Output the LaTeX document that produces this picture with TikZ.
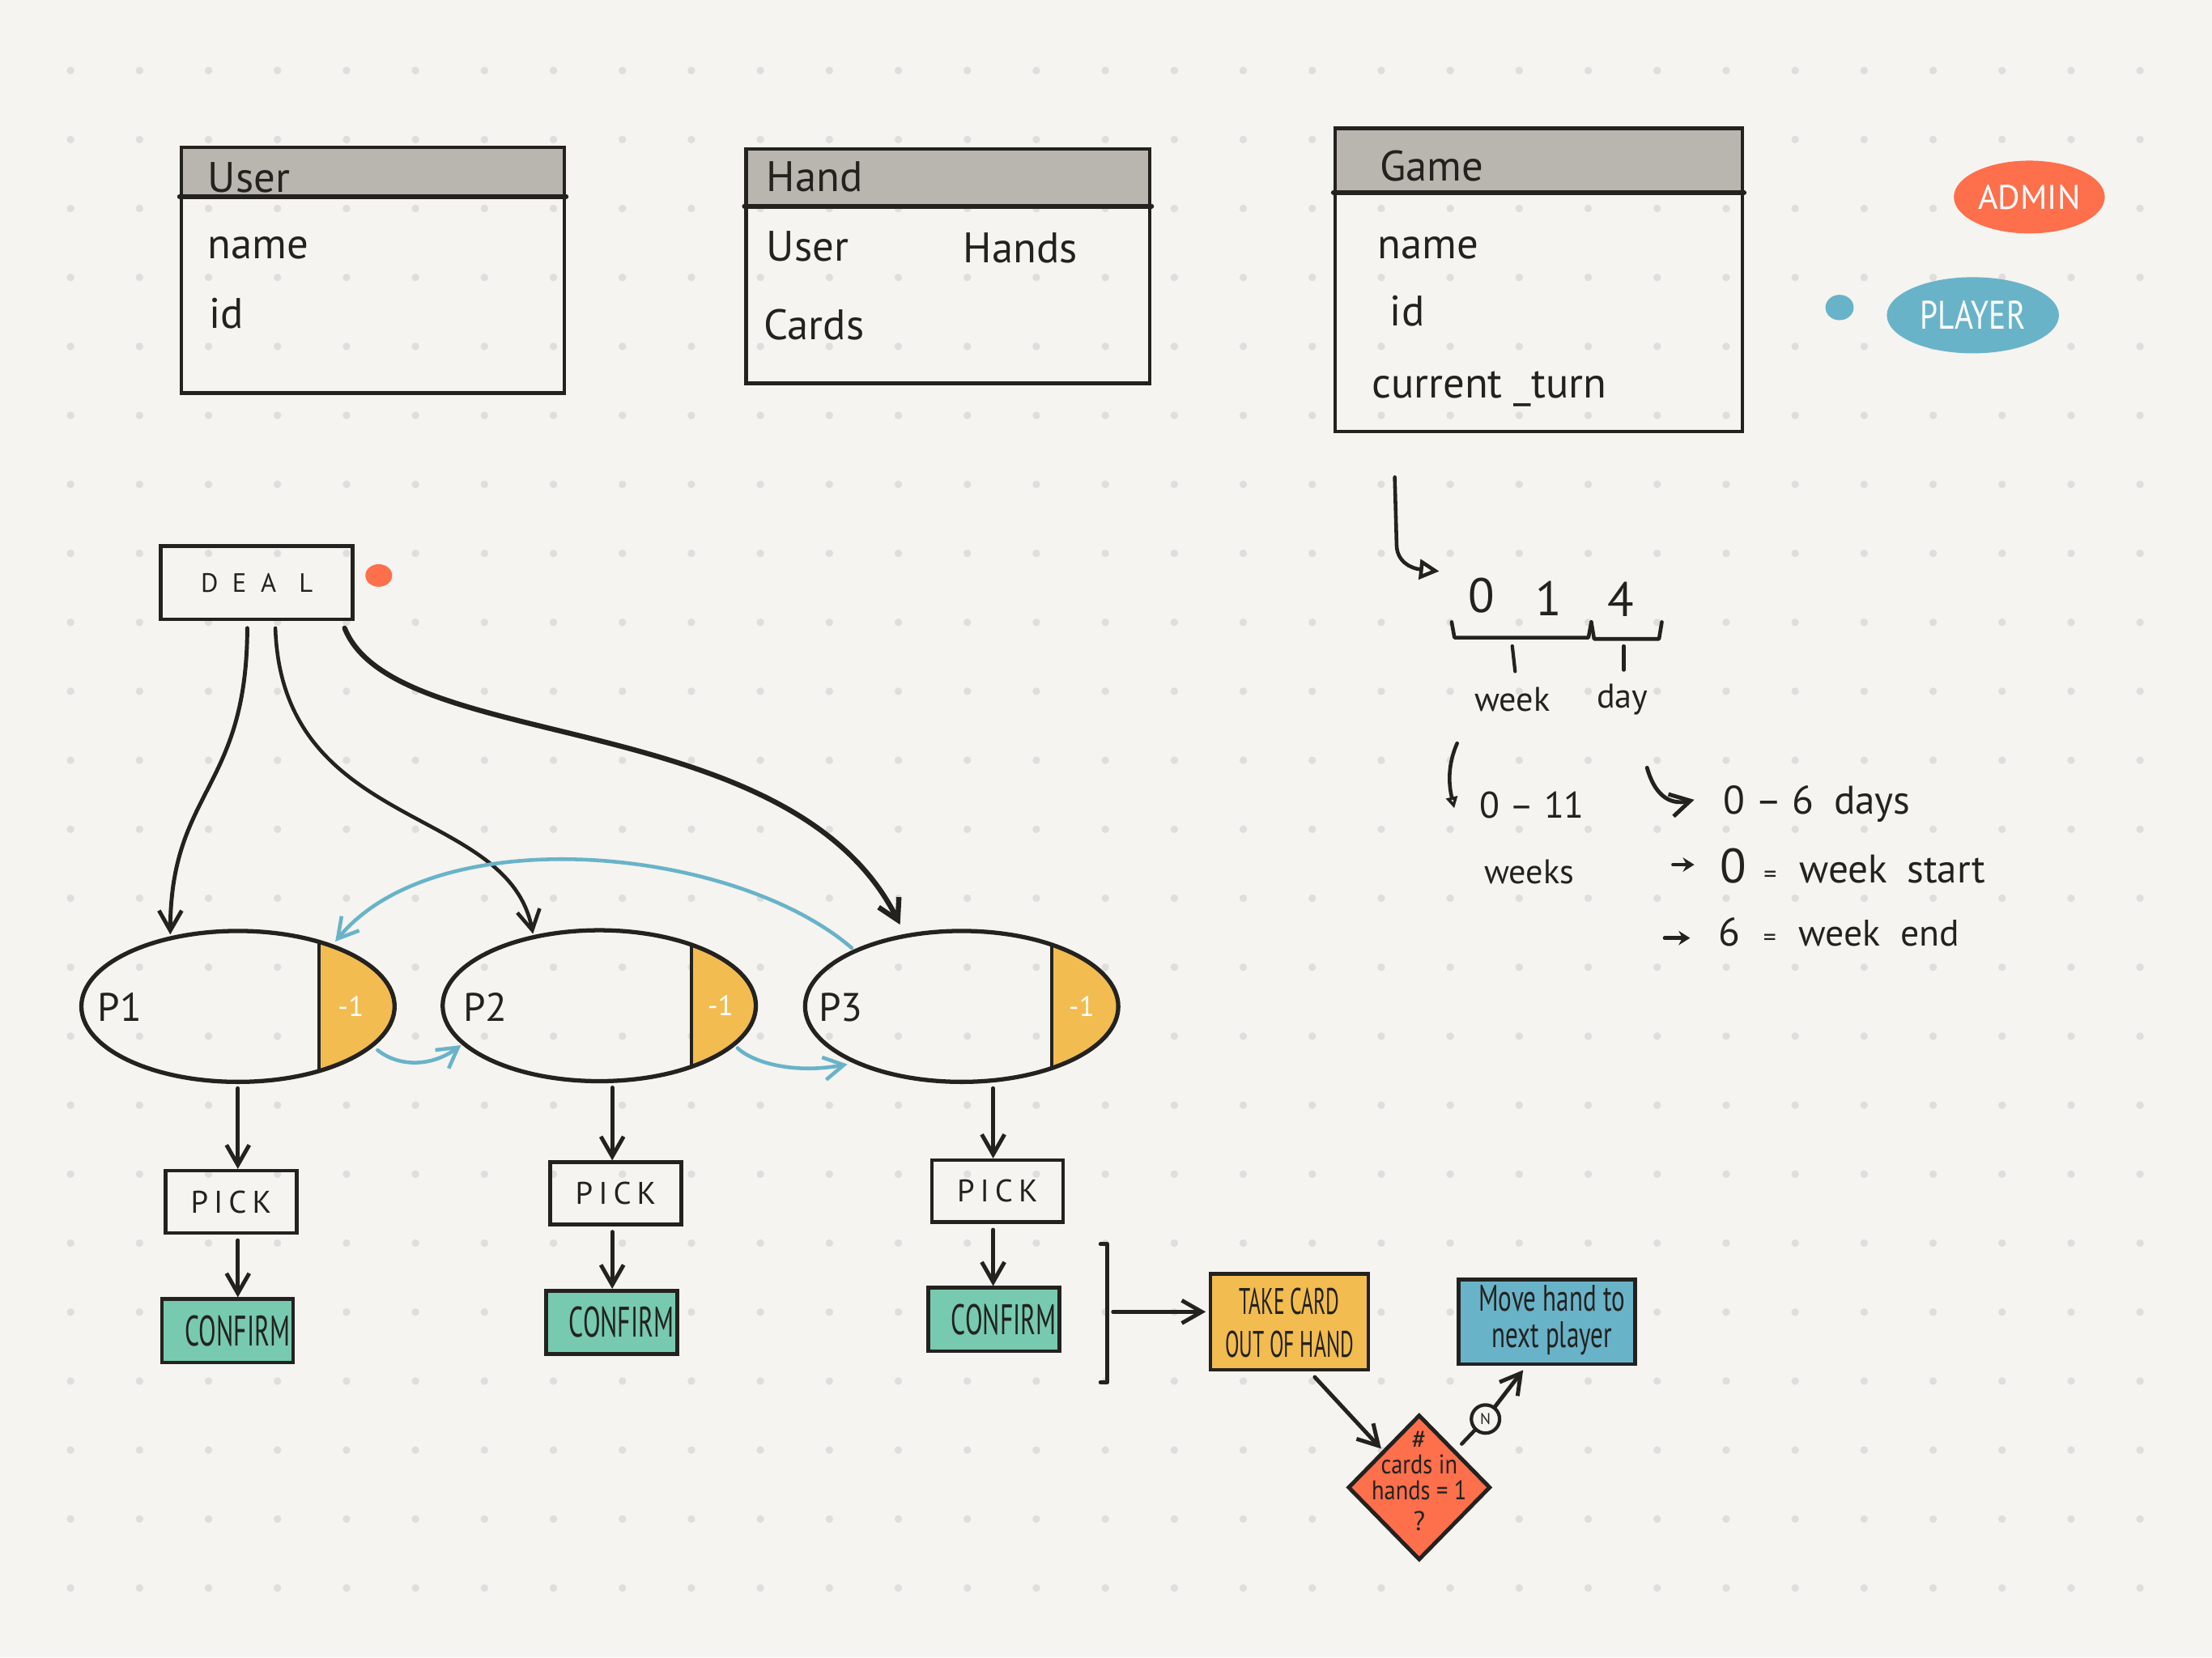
\documentclass[tikz,border=0pt]{standalone}
\usepackage{fontspec}
\setmainfont{PT Sans}
\usetikzlibrary{arrows.meta,shapes.geometric,calc}
\definecolor{paper}{HTML}{F5F4F0}
\definecolor{dotc}{HTML}{DFDEDC}
\definecolor{ink}{HTML}{23221F}
\definecolor{hdr}{HTML}{B9B5AF}
\definecolor{tomato}{HTML}{FE6F4C}
\definecolor{sky}{HTML}{69B3C9}
\definecolor{mustard}{HTML}{F2BC50}
\definecolor{mint}{HTML}{77CAAF}
\def\un{0.017423cm}
\newcommand{\fs}[1]{\fontsize{#1}{#1}\selectfont}
\begin{document}
\begin{tikzpicture}[x=0.017423cm, y=-0.017423cm,
  ink/.style={draw=ink, line width=1.4pt, line cap=round, line join=round},
  arr/.style={ink, -{Straight Barb[length=7pt,width=8pt]}},
  barr/.style={draw=sky, line width=1.3pt, line cap=round, -{Straight Barb[length=7pt,width=8pt]}},
  frame/.style={draw=ink, line width=1.3pt, rectangle, inner sep=0},
  txt/.style={inner sep=0, anchor=west, text=ink},
  tbtext/.style={txt, font=\fs{15}},
  pell/.style={draw=ink, line width=1.5pt, ellipse, inner sep=0,
    minimum width={222*\un}, minimum height={107*\un}},
  pickbox/.style={frame, minimum width={93*\un}, minimum height={44*\un}},
  confbox/.style={frame, fill=mint, minimum width={93*\un}, minimum height={45*\un}},
  note/.style={txt, font=\fs{12}}
]
\useasboundingbox (0,0) rectangle (1568,1175);
\fill[paper] (0,0) rectangle (1568,1175);
% dot grid
\foreach \i in {0,...,30}{\foreach \j in {0,...,22}{
  \fill[dotc] ({50+48.9*\i},{50+48.9*\j}) circle [radius=2.7];}}

% ---------- tables ----------
\fill[hdr] (128.6,104.5) rectangle (400,140.6);
\node[frame, minimum width={271.4*\un}, minimum height={174*\un}] (user) at (264.3,191.5) {};
\draw[ink, line width=1.7pt] ($(user.north west)+(0,36.1)$) -- ($(user.north east)+(0,36.1)$);
\node[tbtext] (usertitle) at (147,126) {User};
\node[tbtext] (username) at (147,176) {name};
\node[tbtext] (userid) at (148,222) {id};

\fill[hdr] (529,105.6) rectangle (815,147.4);
\node[frame, minimum width={286*\un}, minimum height={166.1*\un}] (hand) at (672,188.65) {};
\draw[ink, line width=1.7pt] ($(hand.north west)+(0,41.8)$) -- ($(hand.north east)+(0,41.8)$);
\node[tbtext] (handtitle) at (543,125.4) {Hand};
\node[tbtext] (handuser) at (543,174.6) {User};
\node[tbtext] (handhands) at (682.5,176) {Hands};
\node[tbtext] (handcards) at (541,230) {Cards};

\fill[hdr] (946.5,91) rectangle (1235,137.8);
\node[frame, minimum width={288.5*\un}, minimum height={215*\un}] (game) at (1090.75,198.5) {};
\draw[ink, line width=1.7pt] ($(game.north west)+(0,46.8)$) -- ($(game.north east)+(0,46.8)$);
\node[tbtext] (gametitle) at (977.6,117.5) {Game};
\node[tbtext] (gamename) at (976,176) {name};
\node[tbtext] (gameid) at (985,220.5) {id};
\node[tbtext] (gameturn) at (972,276) {current \_turn};

% ---------- role badges ----------
\node[ellipse, fill=tomato, inner sep=0, minimum width={107*\un}, minimum height={51.6*\un},
  text=white, font=\fs{12}] (admin) at (1438.5,139.7) {ADMIN};
\node[ellipse, fill=sky, inner sep=0, minimum width={122*\un}, minimum height={54*\un},
  text=white] (player) at (1398.5,223.5) {\scalebox{0.8}[1]{\fs{14}PLAYER}};
\fill[sky] (1304,218) ellipse [x radius=10, y radius=9];

% ---------- deal ----------
\node[frame, minimum width={136*\un}, minimum height={52*\un}, font=\fs{9.3}, text=ink] (deal) at (182,413)
  {D\hspace{5pt}E\hspace{5pt}A\hspace{8pt}L};
\fill[tomato] (268.5,408) ellipse [x radius=9.5, y radius=8];

% ---------- players ----------
\begin{scope}
  \clip (168.7,713.5) ellipse [x radius=111, y radius=53.5];
  \fill[mustard] (226,640) rectangle (300,790);
  \draw[ink, line width=1.1pt] (226,640) -- (226,790);
\end{scope}
\begin{scope}
  \clip (424.8,713) ellipse [x radius=111, y radius=53.5];
  \fill[mustard] (490,640) rectangle (560,790);
  \draw[ink, line width=1.1pt] (490,640) -- (490,790);
\end{scope}
\begin{scope}
  \clip (681.7,713.5) ellipse [x radius=111, y radius=53.5];
  \fill[mustard] (745.7,640) rectangle (820,790);
  \draw[ink, line width=1.1pt] (745.7,640) -- (745.7,790);
\end{scope}
\node[pell] (P1) at (168.7,713.5) {};
\node[pell] (P2) at (424.8,713) {};
\node[pell] (P3) at (681.7,713.5) {};
\node[txt, font=\fs{14}] (p1lab) at (69,714) {P1};
\node[txt, font=\fs{14}] (p2lab) at (328,714) {P2};
\node[txt, font=\fs{14}] (p3lab) at (580,714) {P3};
\node[inner sep=0, text=white, font=\fs{10}] (m1) at ($(P1.center)+(80,0)$) {-1};
\node[inner sep=0, text=white, font=\fs{10}] (m2) at ($(P2.center)+(86,0)$) {-1};
\node[inner sep=0, text=white, font=\fs{10}] (m3) at ($(P3.center)+(85,0)$) {-1};

% deal -> players
\draw[arr] ($(deal.south west)+(62.6,5)$) .. controls (175,560) and (121,560) .. ($(P1.center)+(-48,-51)$);
\draw[ink, line width=1.3pt, -{Straight Barb[length=7pt,width=8pt]}]
  ($(deal.south west)+(82.5,5)$) .. controls (200,590) and (360,570) .. ($(P2.center)+(-47,-51)$);
\draw[ink, line width=1.8pt, -{Straight Barb[length=7pt,width=8pt]}]
  ($(deal.south east)+(-7,5)$) .. controls (280,535) and (560,500) .. ($(P3.center)+(-43.7,-58)$);

% turn passing
\draw[barr] ($(P3.center)+(-78,-41.5)$) .. controls (520,600) and (310,580) .. ($(P1.center)+(69,-46)$);
\draw[barr] ($(P1.center)+(99,31)$) .. controls (282,756) and (305,757) .. ($(P2.center)+(-98,28)$);
\draw[barr] ($(P2.center)+(98,30)$) .. controls (532,752) and (560,762) .. ($(P3.center)+(-81,41)$);

% ---------- pick / confirm ----------
\node[pickbox, font=\fs{11}, text=ink] (pick1) at (163.8,852) {P\hspace{2pt}I\hspace{2pt}C\hspace{2pt}K};
\node[pickbox, font=\fs{11}, text=ink] (pick2) at (436.5,846) {P\hspace{2pt}I\hspace{2pt}C\hspace{2pt}K};
\node[pickbox, font=\fs{11}, text=ink] (pick3) at (707,844.5) {P\hspace{2pt}I\hspace{2pt}C\hspace{2pt}K};
\node[confbox] (conf1) at (161.3,943.5) {};
\node[confbox] (conf2) at (433.5,937.5) {};
\node[confbox] (conf3) at (704.5,935.5) {};
\foreach \c in {1,2,3}{
  \node[inner sep=0, text=ink] (conftext\c) at ($(conf\c.center)+(7,0)$) {\scalebox{0.6}[1]{\fs{15}CONFIRM}};}
\coordinate (col1) at (168.6,0);
\coordinate (col2) at (434,0);
\coordinate (col3) at (704,0);
\draw[arr, shorten <=1.5pt] (col1 |- P1.south) -- (col1 |- pick1.north);
\draw[arr, shorten <=1.5pt] (col2 |- P2.south) -- (col2 |- pick2.north);
\draw[arr, shorten <=1.5pt] (col3 |- P3.south) -- (col3 |- pick3.north);
\draw[arr, shorten <=2pt] (col1 |- pick1.south) -- (col1 |- conf1.north);
\draw[arr, shorten <=2pt] (col2 |- pick2.south) -- (col2 |- conf2.north);
\draw[arr, shorten <=2pt] (col3 |- pick3.south) -- (col3 |- conf3.north);

% ---------- hand flow ----------
\draw[ink, line width=1.3pt] (780,882) -- (785,882) -- (785,980) -- (780,980);
\coordinate (brk) at (789,930);
\node[frame, fill=mustard, minimum width={112*\un}, minimum height={68*\un}] (take) at (914,937) {};
\node[inner sep=0, align=center, text=ink, font=\fontsize{13}{15}\selectfont] (taketext) at (914,938)
  {\scalebox{0.56}[1]{TAKE CARD}\\\scalebox{0.56}[1]{OUT OF HAND}};
\node[frame, fill=sky, minimum width={125*\un}, minimum height={60*\un}] (move) at (1096.5,937) {};
\node[inner sep=0, align=center, text=ink, font=\fontsize{13}{13}\selectfont] (movetext) at (1100,936)
  {\scalebox{0.68}[1]{Move hand to}\\\scalebox{0.68}[1]{next player}};
\node[diamond, draw=ink, line width=1.4pt, fill=tomato, inner sep=0,
  minimum width={101*\un}, minimum height={103*\un}] (dec) at (1006,1054.5) {};
\node[inner sep=0, align=center, text=ink, font=\fs{9.5}] (dectext) at (1006,1050)
  {\#\\[-0.5pt]\scalebox{0.85}[1]{cards in}\\[-0.5pt]\scalebox{0.85}[1]{hands = 1}\\[1.5pt]?};
\node[circle, draw=ink, line width=1.2pt, inner sep=0, minimum size={20*\un}, font=\fs{5.5}, text=ink] (ncirc) at (1053,1006) {N};
\draw[arr] (brk) -- ($(take.west)+(-2,-7)$);
\draw[arr] ($(take.south)+(18,4)$) -- ($(dec.north west)+(-1,-1)$);
\draw[ink, line width=1.3pt, shorten <=3pt] (dec.north east) -- (ncirc);
\draw[arr] (ncirc) -- ($(move.south west)+(47,3)$);

% ---------- current_turn encoding ----------
\node[inner sep=0, font=\fs{17}, text=ink] (d0) at (1050,422) {0};
\node[inner sep=0, font=\fs{17}, text=ink] (d1) at (1098,424) {1};
\node[inner sep=0, font=\fs{17}, text=ink] (d4) at (1149,425) {4};
\coordinate (gs) at ($(game.south west)+(43.5,31)$);
\draw[ink, line width=1.3pt, -{Triangle[open, length=7pt, width=7pt]}]
  (gs) -- (990,386) .. controls (990,398) and (1000,403) .. ($(d0.west)+(-20,-17)$);
\draw[ink, line width=1.3pt] (1029,441) -- (1031,452) -- (1126,452) -- (1128,441);
\draw[ink, line width=1.3pt] (1128,441) -- (1130,453) -- (1176,453) -- (1178,441);
\draw[ink, line width=1.2pt] (1072,458) -- (1074,476);
\draw[ink, line width=1.2pt] (1151,458) -- (1151,475);
\node[inner sep=0, font=\fs{12}, text=ink] (wk) at (1072,496) {week};
\node[inner sep=0, font=\fs{12}, text=ink] (dy) at (1150,496) {day};
\node[inner sep=0, font=\fs{13}, text=ink] (wrange) at (1086,571) {0 -- 11};
\node[inner sep=0, font=\fs{12}, text=ink] (wks) at (1084,618) {weeks};
\node[inner sep=0, font=\fs{14}, text=ink, anchor=west] (drange) at (1221,570) {0 -- 6\hspace{7pt}days};
\node[inner sep=0, text=ink, anchor=west] (wstart) at (1219,614) {{\fs{17}0}\hspace{6pt}{\fs{9}=}\hspace{8pt}{\fs{14}week\hspace{7pt}start}};
\node[inner sep=0, text=ink, anchor=west] (wend) at (1218,661) {{\fs{14}6}\hspace{8pt}{\fs{9}=}\hspace{8pt}{\fs{13}week\hspace{7pt}end}};
\draw[ink, line width=1.3pt, -{Triangle[open, length=4pt, width=4pt]}]
  ($(wk.south west)+(-12,22)$) .. controls ($(wk.south west)+(-20,40)$) and ($(wk.south west)+(-17,55)$) .. ($(wk.south west)+(-14,68)$);
\draw[arr] ($(dy.south east)+(-1,37)$) .. controls ($(dy.south east)+(4,55)$) and ($(dy.south east)+(14,64)$) .. ($(drange.west)+(-20,-3)$);
\draw[ink, line width=1.3pt, -{Stealth[length=4pt,width=5pt]}] ($(wstart.west)+(-33,-1)$) -- ($(wstart.west)+(-18,-1)$);
\draw[ink, line width=1.3pt, -{Stealth[length=4pt,width=5pt]}] ($(wend.west)+(-38,4)$) -- ($(wend.west)+(-20,4)$);
\end{tikzpicture}
\end{document}
